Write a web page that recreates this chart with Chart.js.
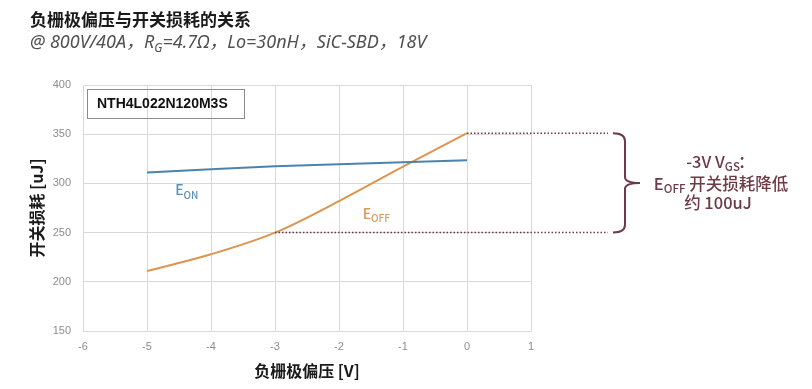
<!doctype html>
<html lang="zh">
<head>
<meta charset="utf-8">
<title>负栅极偏压与开关损耗的关系</title>
<script src="https://cdn.jsdelivr.net/npm/chart.js@4"></script>
<style>
  html, body { margin: 0; padding: 0; background: #fff; }
  #chart { display: block; }
</style>
</head>
<body>
<canvas id="chart" width="812" height="389"></canvas>
<script>
// gate bias (V) and switching energy (uJ)
const vgs = [-5, -4, -3, -2, -1, 0];
const eon = [311, 314.5, 317.5, 319.5, 321.5, 323.5];
const eoff = [211, 228, 250, 282, 317, 351];

const xTicks = [-6, -5, -4, -3, -2, -1, 0, 1];
const yTicks = [150, 200, 250, 300, 350, 400];

const cjk = "'Noto Sans CJK SC', 'Noto Sans', sans-serif";
const maroon = '#6e3a46';

function pts(ys) {
    return vgs.map((x, i) => ({ x: x, y: ys[i] }));
}

// draw "E" + subscript
function drawSub(ctx, main, sub, x, y, size, color, weight) {
    ctx.fillStyle = color;
    ctx.textBaseline = 'alphabetic';
    ctx.textAlign = 'left';
    ctx.font = weight + ' ' + size + 'px ' + cjk;
    ctx.fillText(main, x, y);
    const w = ctx.measureText(main).width;
    ctx.font = weight + ' ' + Math.round(size * 0.72) + 'px ' + cjk;
    ctx.fillText(sub, x + w, y + size * 0.25);
    return w + ctx.measureText(sub).width;
}

const extras = {
    id: 'extras',
    afterDraw(chart) {
        const ctx = chart.ctx;
        const xs = chart.scales.x, ys = chart.scales.y;
        ctx.save();

        // title + subtitle
        ctx.fillStyle = '#1a1a1a';
        ctx.textBaseline = 'middle';
        ctx.textAlign = 'left';
        ctx.font = 'bold 17px ' + cjk;
        ctx.fillText('负栅极偏压与开关损耗的关系', 30, 20);

        ctx.fillStyle = '#505050';
        ctx.font = "italic 18px 'Noto Sans', " + cjk;
        let sx = 30;
        const part1 = '@ 800V/40A，R';
        ctx.fillText(part1, sx, 43);
        sx += ctx.measureText(part1).width;
        ctx.font = "italic 12px 'Noto Sans', " + cjk;
        ctx.fillText('G', sx, 49);
        sx += ctx.measureText('G').width;
        ctx.font = "italic 18px 'Noto Sans', " + cjk;
        ctx.fillText('=4.7Ω，Lo=30nH，SiC-SBD，18V', sx, 43);

        // device label box
        ctx.strokeStyle = '#8a8a8a';
        ctx.lineWidth = 1;
        ctx.strokeRect(87.5, 89.5, 157, 29);
        ctx.fillStyle = '#111';
        ctx.font = "bold 14px 'Liberation Sans', sans-serif";
        ctx.textBaseline = 'middle';
        ctx.fillText('NTH4L022N120M3S', 97, 104.5);

        // curve labels
        drawSub(ctx, 'E', 'ON', xs.getPixelForValue(-4.56), ys.getPixelForValue(288), 14, '#5b8fb8', 500);
        drawSub(ctx, 'E', 'OFF', xs.getPixelForValue(-1.63), ys.getPixelForValue(264), 14, '#d9995a', 500);

        // dotted reference lines
        const yTop = ys.getPixelForValue(eoff[5]);
        const yLow = ys.getPixelForValue(eoff[2]);
        ctx.strokeStyle = maroon;
        ctx.lineWidth = 1.5;
        ctx.setLineDash([1.5, 2]);
        ctx.beginPath();
        ctx.moveTo(xs.getPixelForValue(vgs[5]), yTop);
        ctx.lineTo(608, yTop);
        ctx.moveTo(xs.getPixelForValue(vgs[2]), yLow);
        ctx.lineTo(608, yLow);
        ctx.stroke();
        ctx.setLineDash([]);

        // bracket
        const yMid = (yTop + yLow) / 2;
        ctx.lineWidth = 2;
        ctx.beginPath();
        ctx.moveTo(613, yTop);
        ctx.quadraticCurveTo(625, yTop, 625, yTop + 8);
        ctx.lineTo(625, yMid - 6);
        ctx.quadraticCurveTo(625, yMid, 640, yMid);
        ctx.quadraticCurveTo(625, yMid, 625, yMid + 6);
        ctx.lineTo(625, yLow - 8);
        ctx.quadraticCurveTo(625, yLow, 613, yLow);
        ctx.stroke();

        // note text
        const big = '500 16.5px ' + cjk;
        const small = '500 11.5px ' + cjk;
        ctx.fillStyle = maroon;
        ctx.textBaseline = 'alphabetic';
        ctx.textAlign = 'left';
        // line 1: -3V V_GS：
        ctx.font = big;
        let w1 = ctx.measureText('-3V V').width + ctx.measureText('：').width * 0.6;
        ctx.font = small;
        w1 += ctx.measureText('GS').width;
        let lx = 718 - w1 / 2;
        ctx.font = big;
        ctx.fillText('-3V V', lx, 168);
        lx += ctx.measureText('-3V V').width;
        ctx.font = small;
        ctx.fillText('GS', lx, 171);
        lx += ctx.measureText('GS').width;
        ctx.font = big;
        ctx.fillText('：', lx - 2, 168);

        // line 2: E_OFF 开关损耗降低
        ctx.font = big;
        let w2 = ctx.measureText('E').width + ctx.measureText(' 开关损耗降低').width;
        ctx.font = small;
        w2 += ctx.measureText('OFF').width;
        lx = 721 - w2 / 2;
        ctx.font = big;
        ctx.fillText('E', lx, 190);
        lx += ctx.measureText('E').width;
        ctx.font = small;
        ctx.fillText('OFF', lx, 193);
        lx += ctx.measureText('OFF').width;
        ctx.font = big;
        ctx.fillText(' 开关损耗降低', lx, 190);

        // line 3
        ctx.textAlign = 'center';
        ctx.font = big;
        ctx.fillText('约 100uJ', 718, 209);

        ctx.restore();
    }
};

const gridColor = '#d9d9d9';
const tickFont = { family: "'Liberation Sans', sans-serif", size: 11 };

new Chart(document.getElementById('chart'), {
    type: 'line',
    data: {
        datasets: [
            {
                label: 'EON',
                data: pts(eon),
                borderColor: '#4a84ad',
                borderWidth: 2,
                pointRadius: 0,
                fill: false,
                tension: 0
            },
            {
                label: 'EOFF',
                data: pts(eoff),
                borderColor: '#dc9550',
                borderWidth: 2,
                pointRadius: 0,
                fill: false,
                tension: 0.35
            }
        ]
    },
    options: {
        responsive: false,
        animation: false,
        devicePixelRatio: 1,
        layout: { padding: { top: 85, left: 23, right: 281, bottom: 0 } },
        plugins: {
            legend: { display: false },
            tooltip: { enabled: false }
        },
        scales: {
            x: {
                type: 'linear',
                min: -6,
                max: 1,
                afterBuildTicks: s => { s.ticks = xTicks.map(v => ({ value: v })); },
                afterFit: s => { s.height = 58; },
                grid: { color: gridColor, drawTicks: false },
                border: { color: gridColor },
                ticks: { color: '#8c8c8c', font: tickFont, padding: 9 },
                title: {
                    display: true,
                    text: '负栅极偏压 [V]',
                    color: '#1a1a1a',
                    font: { family: cjk, size: 16, weight: 'bold' },
                    padding: { top: 0, bottom: 8 }
                }
            },
            y: {
                min: 150,
                max: 400,
                afterBuildTicks: s => { s.ticks = yTicks.map(v => ({ value: v })); },
                afterFit: s => { s.width = 60; },
                grid: { color: gridColor, drawTicks: false },
                border: { color: gridColor },
                ticks: { color: '#8c8c8c', font: tickFont, padding: 12 },
                title: {
                    display: true,
                    text: '开关损耗 [uJ]',
                    color: '#1a1a1a',
                    font: { family: cjk, size: 16, weight: 'bold' },
                    padding: { top: 4, bottom: 0 }
                }
            }
        }
    },
    plugins: [extras]
});
</script>
</body>
</html>
